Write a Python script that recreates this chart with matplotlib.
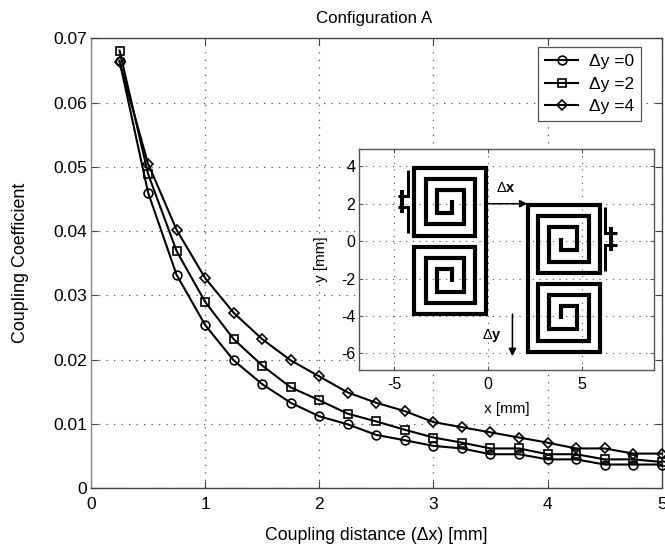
import matplotlib
matplotlib.use('Agg')
import matplotlib.pyplot as plt

distance = [0.25, 0.5, 0.75, 1, 1.25, 1.5, 1.75, 2, 2.25, 2.5, 2.75, 3, 3.25, 3.5, 3.75, 4, 4.25, 4.5, 4.75, 5]
dy0 = [.0665, .0460, .0332, .0254, .0199, .0162, .0133, .0112, .00995, .0083, .00747, .0066, .0062, .0053, .0053, .0045, .0045, .0037, .0037, .0037]
dy2 = [.0681, .0489, .0369, .0290, .0232, .0191, .0157, .0137, .0116, .0104, .0091, .0079, .0071, .0062, .0062, .0053, .0053, .0045, .0045, .0041]
dy4 = [.0663, .0505, .0402, .0327, .0273, .0232, .0199, .0174, .0149, .0133, .0120, .0103, .0095, .0087, .0079, .0071, .0062, .0062, .0054, .0054]
series_labels = ['Δy =0', 'Δy =2', 'Δy =4']

# Inset diagram geometry in mm
left_x = [-1.91, -1.91, -2.71, -2.71, -1.30, -1.30, -3.30, -3.30, -0.71, -0.71, -3.93, -3.93, -0.09, -0.09,
          -3.93, -3.93, -0.71, -0.71, -3.30, -3.30, -1.30, -1.30, -2.71, -2.71, -1.91, -1.91]
left_y = [2.21, 1.50, 1.50, 2.71, 2.71, 0.91, 0.91, 3.32, 3.32, 0.30, 0.30, 3.91, 3.91, -3.89,
          -3.89, -0.29, -0.29, -3.32, -3.32, -0.88, -0.88, -2.70, -2.70, -1.48, -1.48, -2.21]
right_x = [3.89, 3.89, 4.73, 4.73, 3.27, 3.27, 5.36, 5.36, 2.68, 2.68, 5.95, 5.95, 2.11, 2.11,
           5.95, 5.95, 2.68, 2.68, 5.36, 5.36, 3.27, 3.27, 4.73, 4.73, 3.89, 3.89]
right_y = [0.16, -0.50, -0.50, 0.75, 0.75, -1.09, -1.09, 1.32, 1.32, -1.71, -1.71, 1.91, 1.91, -5.91,
           -5.91, -2.29, -2.29, -5.32, -5.32, -2.88, -2.88, -4.70, -4.70, -3.46, -3.46, -4.18]
feed_left = [([-4.25, -4.25, -4.83], [3.80, 2.42, 2.42]), ([-4.83, -4.25, -4.25], [1.80, 1.80, 0.43])]
stub_left = ([-4.58, -4.58], [2.75, 1.50])
feed_right = [([6.22, 6.22, 6.88], [1.83, 0.45, 0.45]), ([6.88, 6.22, 6.22], [-0.22, -0.22, -1.60])]
stub_right = ([6.58, 6.58], [0.75, -0.52])
arrow_dx = ((0.0, 2.0), (2.1, 2.0))
arrow_dy = ((1.3, -3.9), (1.3, -6.15))

W, H = 665, 546
plt.rcParams['font.family'] = ['Liberation Sans', 'DejaVu Sans']
plt.rcParams['mathtext.fontset'] = 'custom'
plt.rcParams['mathtext.rm'] = 'Liberation Sans'
plt.rcParams['mathtext.bf'] = 'Liberation Sans:bold'
plt.rcParams['axes.unicode_minus'] = False

def box(l, t, r, b):
    return [l / W, 1 - b / H, (r - l) / W, (b - t) / H]

fig = plt.figure(figsize=(W / 100, H / 100), dpi=100)
ax = fig.add_axes(box(91, 38.3, 661.7, 488.3))
for vals, m, lab in zip((dy0, dy2, dy4), ('o', 's', 'D'), series_labels):
    ax.plot(distance, vals, color='k', lw=1.5, marker=m, ms={'o': 6.3, 's': 5.2, 'D': 4.8}[m],
            mfc='none', mew=1.2, label=lab, clip_on=False, zorder=3)
ax.set_xlim(0, 5)
ax.set_ylim(0, 0.07)
ax.set_xticks(range(6))
ax.set_yticks([0, .01, .02, .03, .04, .05, .06, .07])
ax.set_yticklabels(['0', '0.01', '0.02', '0.03', '0.04', '0.05', '0.06', '0.07'])
ax.tick_params(direction='in', top=True, right=True, length=5, width=0.8, color='#444444',
               labelsize=12.5)
ax.tick_params(axis='x', pad=6)
ax.tick_params(axis='y', pad=3)
ax.grid(True, color='#555555', lw=0.9, ls=(0, (1, 5)))
for s in ax.spines.values():
    s.set_color('#444444')
    s.set_linewidth(1.0)
ax.spines['left'].set_color('#888888')
ax.set_title('Configuration A', fontsize=12.2, x=(374 - 91) / 570.7, pad=0, y=1.0 + 15 / 450)
ax.set_xlabel('Coupling distance (Δx) [mm]', fontsize=12.8, labelpad=11)
ax.set_ylabel('Coupling Coefficient', fontsize=12.9, labelpad=17.5)

leg = ax.legend(loc='upper left', bbox_to_anchor=((538 - 91) / 570.7, 1 - (46.7 - 38.3) / 450), fontsize=12.5,
                fancybox=False, framealpha=1, edgecolor='#555555', borderaxespad=0,
                labelspacing=0.42, handlelength=1.9, handletextpad=0.6, borderpad=0.42)
leg.get_frame().set_linewidth(0.9)
leg.set_zorder(5)

ins = fig.add_axes(box(359.3, 149.3, 654.3, 370))
ins.set_zorder(4)
ins.set_xlim(-6.87, 8.87)
ins.set_ylim(-6.89, 4.91)
ins.set_xticks([-5, 0, 5])
ins.set_yticks([-6, -4, -2, 0, 2, 4])
ins.tick_params(direction='in', length=3, width=0.7, color='#555555', top=True, right=True, labelsize=11.5)
ins.tick_params(axis='x', pad=5)
ins.tick_params(axis='y', pad=3)
ins.grid(True, color='#555555', lw=0.8, ls=(0, (1, 5)))
ins.set_axisbelow(True)
for s in ins.spines.values():
    s.set_color('#555555')
    s.set_linewidth(1.0)
for xs, ys in ((left_x, left_y), (right_x, right_y)):
    ins.plot(xs, ys, color='k', lw=3.0, solid_joinstyle='miter', solid_capstyle='butt')
for xs, ys in feed_left + feed_right:
    ins.plot(xs, ys, color='k', lw=2.2, solid_joinstyle='miter', solid_capstyle='butt')
for xs, ys in (stub_left, stub_right):
    ins.plot(xs, ys, color='k', lw=2.9, solid_capstyle='butt')
for start, end in (arrow_dx, arrow_dy):
    ins.annotate('', xy=end, xytext=start,
                 arrowprops=dict(arrowstyle='-|>', color='k', lw=1.1, mutation_scale=11, shrinkA=0, shrinkB=0))
ins.text(0.42, 2.85, r'$\Delta\mathbf{x}$', fontsize=10.5, va='center', ha='left')
ins.text(-0.3, -5.07, r'$\Delta\mathbf{y}$', fontsize=10.5, va='center', ha='left')
ins.set_xlabel('x [mm]', fontsize=11, labelpad=7)
ins.set_ylabel('y [mm]', fontsize=11, labelpad=9)

fig.savefig('out.png', dpi=100, facecolor='white')
